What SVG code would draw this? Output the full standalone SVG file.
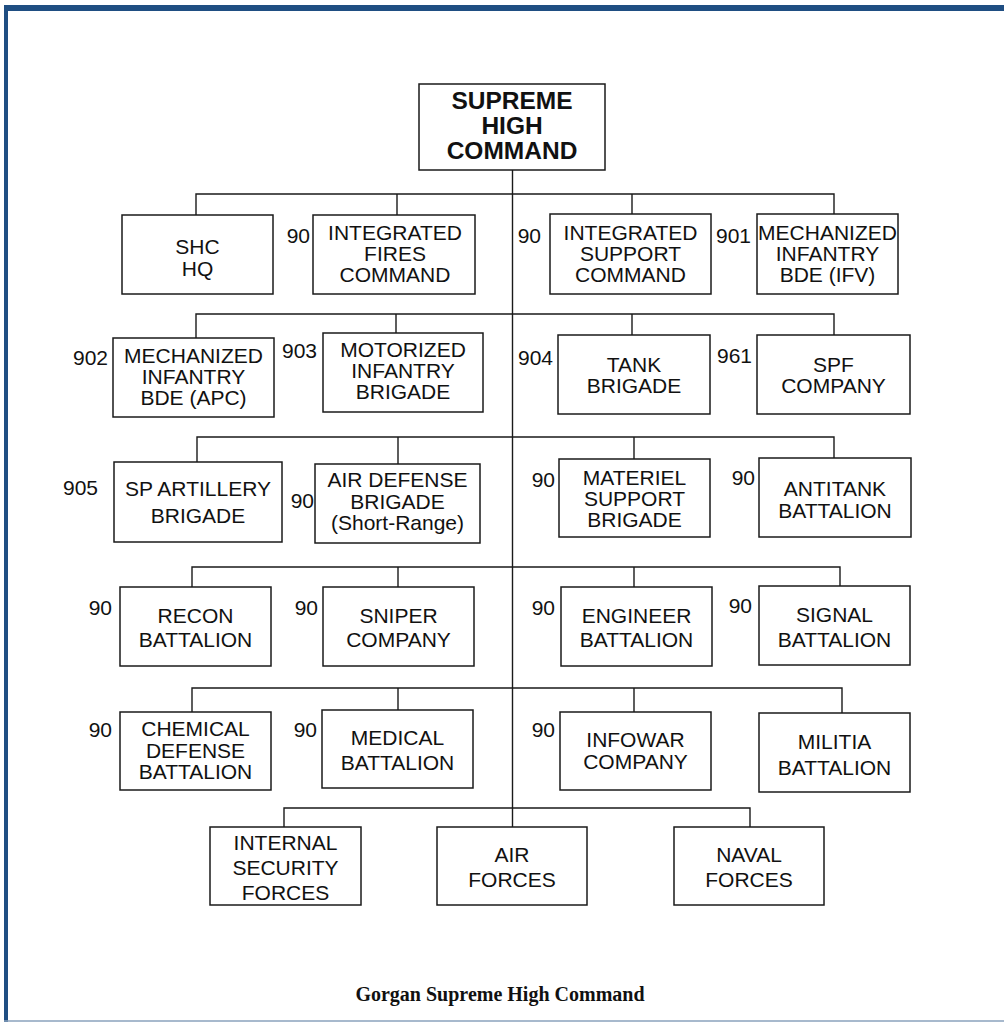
<svg xmlns="http://www.w3.org/2000/svg" width="1004" height="1024" viewBox="0 0 1004 1024">
<style>
.box{fill:#fff;stroke:#1a1a1a;stroke-width:1.5}
.conn{stroke:#1a1a1a;stroke-width:1.4;fill:none}
.t{font-family:"Liberation Sans",Arial,sans-serif;font-size:21px;fill:#111;text-anchor:middle}
.n{font-family:"Liberation Sans",Arial,sans-serif;font-size:21px;fill:#111;text-anchor:end}
.tb{font-family:"Liberation Sans",Arial,sans-serif;font-size:24.5px;font-weight:bold;fill:#111;text-anchor:middle}
.cap{font-family:"Liberation Serif","Times New Roman",serif;font-size:20px;font-weight:bold;fill:#111;text-anchor:middle}
</style>
<rect width="1004" height="1024" fill="#fff"/>
<g id="frame">
<rect x="4" y="5" width="1000" height="6" fill="#1f4e82"/>
<rect x="4" y="5" width="4" height="1017" fill="#1f4e82"/>
<line x1="4" y1="1021" x2="1004" y2="1021" stroke="#8aa2bd" stroke-width="1.5"/>
</g>
<g id="connectors">
<path class="conn" d="M512.5,170 V827"/>
<path class="conn" d="M196,215 V194 H834 V214 M397,194 V215 M632,194 V214"/>
<path class="conn" d="M196,338 V314 H834 V335 M396,314 V333 M632,314 V335"/>
<path class="conn" d="M197,462 V437 H834 V458 M398,437 V464 M634,437 V459"/>
<path class="conn" d="M192,587 V567 H840 V586 M398,567 V587 M634,567 V587"/>
<path class="conn" d="M192,712 V688 H842 V713 M398,688 V710 M634,688 V712"/>
<path class="conn" d="M284,827 V808 H750 V827"/>
</g>
<g id="shc"><rect class="box" x="419" y="84" width="186" height="86"/><text class="tb" x="512"><tspan x="512" y="108.5">SUPREME</tspan><tspan x="512" y="133.5">HIGH</tspan><tspan x="512" y="158.5">COMMAND</tspan></text></g>

<g id="shc-hq"><rect class="box" x="122" y="215" width="151" height="79"/><text class="t"><tspan x="197.5" y="254">SHC</tspan><tspan x="197.5" y="275.5">HQ</tspan></text></g>
<g id="ifc"><rect class="box" x="313" y="215" width="162" height="79"/><text class="t"><tspan x="395" y="240">INTEGRATED</tspan><tspan x="395" y="261">FIRES</tspan><tspan x="395" y="282">COMMAND</tspan></text><text class="n" x="310" y="243">90</text></g>
<g id="isc"><rect class="box" x="550" y="214" width="161" height="80"/><text class="t"><tspan x="630.5" y="240">INTEGRATED</tspan><tspan x="630.5" y="261">SUPPORT</tspan><tspan x="630.5" y="282">COMMAND</tspan></text><text class="n" x="541" y="243">90</text></g>
<g id="mib-ifv"><rect class="box" x="757" y="214" width="141" height="80"/><text class="t"><tspan x="827.5" y="240">MECHANIZED</tspan><tspan x="827.5" y="261">INFANTRY</tspan><tspan x="827.5" y="282">BDE (IFV)</tspan></text><text class="n" x="751" y="243">901</text></g>

<g id="mib-apc"><rect class="box" x="113" y="338" width="161" height="79"/><text class="t"><tspan x="193.5" y="363">MECHANIZED</tspan><tspan x="193.5" y="384">INFANTRY</tspan><tspan x="193.5" y="405">BDE (APC)</tspan></text><text class="n" x="108" y="365">902</text></g>
<g id="mot"><rect class="box" x="323" y="333" width="160" height="79"/><text class="t"><tspan x="403" y="357">MOTORIZED</tspan><tspan x="403" y="378">INFANTRY</tspan><tspan x="403" y="399">BRIGADE</tspan></text><text class="n" x="317" y="358">903</text></g>
<g id="tank"><rect class="box" x="558" y="335" width="152" height="79"/><text class="t"><tspan x="634" y="372">TANK</tspan><tspan x="634" y="393">BRIGADE</tspan></text><text class="n" x="553" y="365">904</text></g>
<g id="spf"><rect class="box" x="757" y="335" width="153" height="79"/><text class="t"><tspan x="833.5" y="372">SPF</tspan><tspan x="833.5" y="393">COMPANY</tspan></text><text class="n" x="752" y="363">961</text></g>

<g id="spart"><rect class="box" x="114" y="462" width="168" height="80"/><text class="t"><tspan x="198" y="496">SP ARTILLERY</tspan><tspan x="198" y="523">BRIGADE</tspan></text><text class="n" x="98" y="495">905</text></g>
<g id="adb"><rect class="box" x="315" y="464" width="165" height="79"/><text class="t"><tspan x="397.5" y="487">AIR DEFENSE</tspan><tspan x="397.5" y="509">BRIGADE</tspan><tspan x="397.5" y="530">(Short-Range)</tspan></text><text class="n" x="314" y="508">90</text></g>
<g id="mat"><rect class="box" x="559" y="459" width="151" height="78"/><text class="t"><tspan x="634.5" y="485">MATERIEL</tspan><tspan x="634.5" y="506">SUPPORT</tspan><tspan x="634.5" y="527">BRIGADE</tspan></text><text class="n" x="555" y="487">90</text></g>
<g id="at"><rect class="box" x="759" y="458" width="152" height="79"/><text class="t"><tspan x="835" y="496">ANTITANK</tspan><tspan x="835" y="518">BATTALION</tspan></text><text class="n" x="755" y="485">90</text></g>

<g id="recon"><rect class="box" x="120" y="587" width="151" height="79"/><text class="t"><tspan x="195.5" y="623">RECON</tspan><tspan x="195.5" y="647">BATTALION</tspan></text><text class="n" x="112" y="615">90</text></g>
<g id="sniper"><rect class="box" x="323" y="587" width="151" height="79"/><text class="t"><tspan x="398.5" y="623">SNIPER</tspan><tspan x="398.5" y="647">COMPANY</tspan></text><text class="n" x="318" y="615">90</text></g>
<g id="eng"><rect class="box" x="561" y="587" width="151" height="79"/><text class="t"><tspan x="636.5" y="623">ENGINEER</tspan><tspan x="636.5" y="647">BATTALION</tspan></text><text class="n" x="555" y="615">90</text></g>
<g id="sig"><rect class="box" x="759" y="586" width="151" height="79"/><text class="t"><tspan x="834.5" y="622">SIGNAL</tspan><tspan x="834.5" y="647">BATTALION</tspan></text><text class="n" x="752" y="613">90</text></g>

<g id="chem"><rect class="box" x="120" y="712" width="151" height="78"/><text class="t"><tspan x="195.5" y="736">CHEMICAL</tspan><tspan x="195.5" y="757.5">DEFENSE</tspan><tspan x="195.5" y="779">BATTALION</tspan></text><text class="n" x="112" y="737">90</text></g>
<g id="med"><rect class="box" x="322" y="710" width="151" height="78"/><text class="t"><tspan x="397.5" y="745">MEDICAL</tspan><tspan x="397.5" y="770">BATTALION</tspan></text><text class="n" x="317" y="737">90</text></g>
<g id="info"><rect class="box" x="560" y="712" width="151" height="78"/><text class="t"><tspan x="635.5" y="747">INFOWAR</tspan><tspan x="635.5" y="768.5">COMPANY</tspan></text><text class="n" x="555" y="737">90</text></g>
<g id="mil"><rect class="box" x="759" y="713" width="151" height="79"/><text class="t"><tspan x="834.5" y="749">MILITIA</tspan><tspan x="834.5" y="775">BATTALION</tspan></text></g>

<g id="isf"><rect class="box" x="210" y="827" width="151" height="78"/><text class="t"><tspan x="285.5" y="850">INTERNAL</tspan><tspan x="285.5" y="875">SECURITY</tspan><tspan x="285.5" y="900">FORCES</tspan></text></g>
<g id="air"><rect class="box" x="437" y="827" width="150" height="78"/><text class="t"><tspan x="512" y="862">AIR</tspan><tspan x="512" y="887">FORCES</tspan></text></g>
<g id="naval"><rect class="box" x="674" y="827" width="150" height="78"/><text class="t"><tspan x="749" y="862">NAVAL</tspan><tspan x="749" y="887">FORCES</tspan></text></g>

<text class="cap" x="500" y="1001">Gorgan Supreme High Command</text>
</svg>
